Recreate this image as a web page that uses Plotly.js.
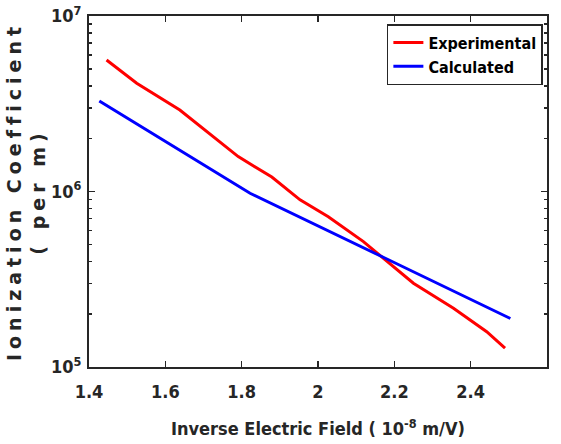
<!DOCTYPE html>
<html>
<head>
<meta charset="utf-8">
<script src="https://cdn.plot.ly/plotly-3.0.1.min.js"></script>
<style>html,body{margin:0;padding:0;background:#fff;}#chart{width:561px;height:444px;}</style>
</head>
<body>
<div id="chart"></div>
<script>
// Experimental ionization coefficient
const expX = [1.446, 1.525, 1.638, 1.791, 1.879, 1.953, 2.027, 2.119, 2.250, 2.355, 2.442, 2.490];
const expY = [5.61e6, 4.14e6, 2.91e6, 1.58e6, 1.21e6, 8.96e5, 7.18e5, 5.18e5, 3.00e5, 2.16e5, 1.59e5, 1.28e5];
// Calculated ionization coefficient
const calcX = [1.427, 1.638, 1.822, 2.171, 2.504];
const calcY = [3.28e6, 1.72e6, 9.77e5, 4.22e5, 1.89e5];

const xTicks = [1.4, 1.6, 1.8, 2, 2.2, 2.4, 2.6];
const xTickText = ["1.4", "1.6", "1.8", "2", "2.2", "2.4", "2.6"];
const yTicks = [1e5, 1e6, 1e7];
const yTickText = ["10<sup>5</sup>", "10<sup>6</sup>", "10<sup>7</sup>"];
const yMinor = [2e5, 3e5, 4e5, 5e5, 6e5, 7e5, 8e5, 9e5, 2e6, 3e6, 4e6, 5e6, 6e6, 7e6, 8e6, 9e6];

const axisColor = "#262626";
const tickFont = {family: "DejaVu Sans Condensed", size: 18, color: axisColor, weight: "bold"};

const traces = [
  {x: expX, y: expY, type: "scatter", mode: "lines", name: "Experimental",
   line: {color: "#ff0000", width: 3}},
  {x: calcX, y: calcY, type: "scatter", mode: "lines", name: "Calculated",
   line: {color: "#0000ff", width: 3}}
];

const layout = {
  width: 561, height: 444,
  margin: {l: 89, r: 14, t: 16, b: 77},
  paper_bgcolor: "#ffffff", plot_bgcolor: "#ffffff",
  showlegend: true,
  legend: {x: 0.991, xanchor: "right", y: 0.977, yanchor: "top",
    bgcolor: "#ffffff", bordercolor: axisColor, borderwidth: 1.5,
    font: {family: "DejaVu Sans Condensed", size: 16, color: "#000", weight: "bold"},
    tracegroupgap: 0},
  xaxis: {
    range: [1.4, 2.6], tickmode: "array", tickvals: xTicks, ticktext: xTickText,
    ticks: "inside", ticklen: 6, tickwidth: 1.5, tickcolor: axisColor,
    showline: true, linecolor: axisColor, linewidth: 2, mirror: "ticks",
    showgrid: false, zeroline: false, tickfont: tickFont, ticklabelstandoff: 7,
    title: {text: "Inverse Electric Field ( 10<sup>-8</sup> m/V)", standoff: 22,
      font: {family: "DejaVu Sans Condensed", size: 18, color: axisColor, weight: "bold"}}
  },
  yaxis: {
    type: "log", range: [5, 7], tickmode: "array", tickvals: yTicks, ticktext: yTickText,
    ticks: "inside", ticklen: 6, tickwidth: 1.5, tickcolor: axisColor,
    minor: {tickmode: "array", tickvals: yMinor, ticks: "inside", ticklen: 3, tickcolor: axisColor, tickwidth: 1.5, showgrid: false},
    showline: true, linecolor: axisColor, linewidth: 2, mirror: "ticks",
    showgrid: false, zeroline: false, tickfont: tickFont, ticklabelstandoff: 2,
    title: {text: "<span style=\"letter-spacing:5px\">Ionization Coefficient</span><br><span style=\"letter-spacing:5px\">( per m)</span>", standoff: 0,
      font: {family: "DejaVu Sans", size: 19, color: axisColor, weight: "bold"}}
  }
};

Plotly.newPlot("chart", traces, layout, {displayModeBar: false, staticPlot: true});
</script>
</body>
</html>
